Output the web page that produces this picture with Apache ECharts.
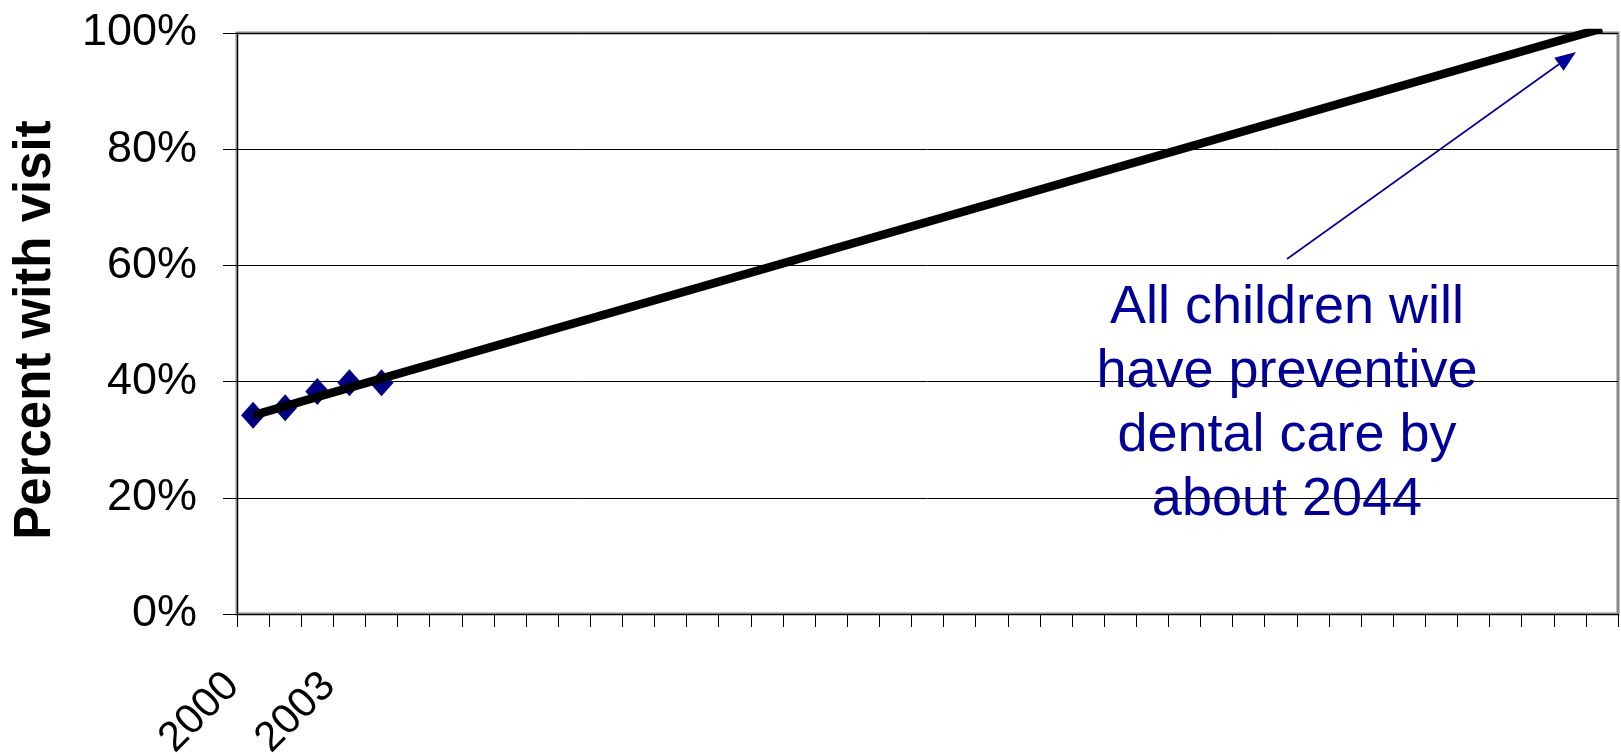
<!DOCTYPE html>
<html>
<head>
<meta charset="utf-8">
<script src="https://cdn.jsdelivr.net/npm/echarts@6/dist/echarts.min.js"></script>
<style>
html,body{margin:0;padding:0;background:#fff;}
#c{width:1621px;height:754px;}
</style>
</head>
<body>
<div id="c"></div>
<script>
// ---- data ----
const categories = ['2000','2001','2002','2003','2004','2005','2006','2007','2008','2009',
  '2010','2011','2012','2013','2014','2015','2016','2017','2018','2019',
  '2020','2021','2022','2023','2024','2025','2026','2027','2028','2029',
  '2030','2031','2032','2033','2034','2035','2036','2037','2038','2039',
  '2040','2041','2042'];
const labeledYears = ['2000','2003'];
const visitYears = ['2000','2001','2002','2003','2004'];
const visitValues = [34.2, 35.5, 38.3, 39.8, 39.8];
const trendYears = ['2000','2042'];
const trendValues = [34.2, 100.8];
const yTicks = [0, 20, 40, 60, 80, 100];
const yTitle = 'Percent with visit';
const noteText = ['All children will','have preventive','dental care by','about 2044'];

// ---- chart ----
const chart = echarts.init(document.getElementById('c'), null, {renderer:'canvas'});
const FONT = '"Liberation Sans", Arial, sans-serif';
const NAVY = '#000099';

// arrow geometry (annotation, pixel space)
const arrowFrom = [1287, 259];
const arrowTip = [1576, 52];
const dx = arrowTip[0]-arrowFrom[0], dy = arrowTip[1]-arrowFrom[1];
const len = Math.sqrt(dx*dx+dy*dy);
const ux = dx/len, uy = dy/len;
const headLen = 21, headHalf = 8;
const bx = arrowTip[0]-ux*headLen, by = arrowTip[1]-uy*headLen;
const px = -uy, py = ux;

const option = {
  animation: false,
  backgroundColor: '#fff',
  grid: {
    left: 237, right: 3, top: 33, bottom: 140,
    show: true, borderColor: '#888', borderWidth: 3,
    containLabel: false, outerBoundsMode: 'none'
  },
  xAxis: {
    type: 'category',
    data: categories,
    boundaryGap: true,
    axisLine: {show: true, lineStyle: {color: '#000', width: 1}},
    axisTick: {show: true, interval: 0, length: 13, lineStyle: {color: '#000', width: 1}},
    axisLabel: {
      interval: (i, v) => labeledYears.includes(v),
      rotate: 45, margin: 45,
      fontSize: 42, fontFamily: FONT, color: '#000',
      padding: [0, 29, 58, 0]
    },
    splitLine: {show: false}
  },
  yAxis: {
    type: 'value',
    min: yTicks[0], max: yTicks[yTicks.length-1], interval: yTicks[1]-yTicks[0],
    axisLine: {show: true, lineStyle: {color: '#000', width: 1}},
    axisTick: {show: true, length: 14, lineStyle: {color: '#000', width: 1}},
    axisLabel: {formatter: '{value}%', margin: 40, fontSize: 45, fontFamily: FONT, color: '#000'},
    splitLine: {show: true, lineStyle: {color: '#000', width: 1}}
  },
  series: [
    {
      type: 'scatter',
      data: visitYears.map((y, i) => [y, visitValues[i]]),
      symbol: 'diamond', symbolSize: [24, 27],
      itemStyle: {color: '#000080', opacity: 1},
      z: 2
    },
    {
      type: 'line',
      data: trendYears.map((y, i) => [y, trendValues[i]]),
      symbol: 'none',
      lineStyle: {color: '#000', width: 8.5},
      clip: true,
      z: 3
    }
  ],
  graphic: [
    {
      type: 'text',
      x: 36, y: 330, rotation: Math.PI/2,
      style: {text: yTitle, fontSize: 51, fontWeight: 'bold', fontFamily: FONT, fill: '#000',
              align: 'center', verticalAlign: 'middle'}
    },
    {
      type: 'rect',
      shape: {x: 1032, y: 262, width: 512, height: 268},
      style: {fill: '#fff'}
    },
    {
      type: 'text',
      x: 1287, y: 404,
      style: {text: noteText.join('\n'), fontSize: 54, fontFamily: FONT, fill: NAVY,
              lineHeight: 64, align: 'center', verticalAlign: 'middle'}
    },
    {
      type: 'line',
      shape: {x1: arrowFrom[0], y1: arrowFrom[1], x2: bx, y2: by},
      style: {stroke: NAVY, lineWidth: 1.6}
    },
    {
      type: 'polygon',
      shape: {points: [arrowTip, [bx+px*headHalf, by+py*headHalf], [bx-px*headHalf, by-py*headHalf]]},
      style: {fill: NAVY}
    }
  ]
};
chart.setOption(option);
</script>
</body>
</html>
